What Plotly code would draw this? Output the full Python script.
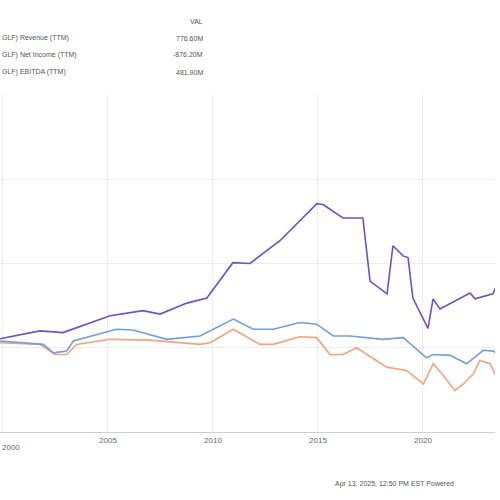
import plotly.graph_objects as go

rev_x = [1999.86, 2001.76, 2002.86, 2005.1, 2006.67, 2007.48, 2008.76, 2009.71, 2010.95, 2011.76, 2013.19, 2014.95, 2015.24, 2016.19, 2017.14, 2017.48, 2018.29, 2018.57, 2019.05, 2019.29, 2019.52, 2020.24, 2020.48, 2020.81, 2022.24, 2022.48, 2023.33, 2023.57]
rev_y = [10.7, 20, 18, 38, 44, 40, 53, 59, 101, 100, 127, 171, 170, 154, 154, 79, 64, 121, 109, 107, 59, 23, 58, 46, 65, 58, 64, 77]

ebitda_x = [1999.86, 2001.92, 2002.4, 2003.03, 2003.35, 2005.4, 2006.2, 2007.8, 2009.38, 2010.97, 2011.92, 2012.87, 2014.14, 2014.94, 2015.73, 2016.52, 2018.1, 2019.06, 2020.17, 2020.49, 2021.29, 2022.08, 2022.87, 2023.35, 2023.59]
ebitda_y = [8, 4, -6, -4, 8, 22, 21, 10, 14, 34, 22, 22, 30, 28, 14, 14, 10, 12, -12, -8, -9, -19, -3, -4, -8]

ni_x = [1999.86, 2001.76, 2002.48, 2003.03, 2003.51, 2005.1, 2007.0, 2009.38, 2009.86, 2010.97, 2012.24, 2012.87, 2014.14, 2014.94, 2015.57, 2016.2, 2016.84, 2017.32, 2018.27, 2019.22, 2020.02, 2020.49, 2020.97, 2021.52, 2021.92, 2022.4, 2022.71, 2023.19, 2023.59]
ni_y = [6, 4, -8, -8, 4, 10, 9, 4, 6, 22, 4, 4, 13, 12, -8, -8, 0, -8, -23, -27, -43, -19, -33, -51, -43, -31, -15, -19, -39]

tick_years = [2000, 2005, 2010, 2015, 2020]
tick_labels = ["2000", "2005", "2010", "2015", "2020"]

fig = go.Figure()
fig.add_trace(go.Scatter(x=ni_x, y=ni_y, mode="lines", line=dict(color="#f7a27c", width=1.6)))
fig.add_trace(go.Scatter(x=ebitda_x, y=ebitda_y, mode="lines", line=dict(color="#6f9ee3", width=1.6)))
fig.add_trace(go.Scatter(x=rev_x, y=rev_y, mode="lines", line=dict(color="#6a50d2", width=1.6)))

fig.update_layout(
    width=500, height=500, showlegend=False,
    margin=dict(l=0, r=5, t=95, b=68, autoexpand=False),
    paper_bgcolor="white", plot_bgcolor="white",
    font=dict(family="Liberation Sans, Arial", size=8, color="#555"),
    xaxis=dict(range=[1999.86, 2023.43], tickvals=tick_years, ticktext=[""] + tick_labels[1:],
               automargin=False, showgrid=True, gridcolor="#ececec", zeroline=False,
               showline=True, linecolor="#d0d0d0", ticks="", tickfont=dict(size=8, color="#666")),
    yaxis=dict(range=[-100, 300], dtick=100, showgrid=True, gridcolor="#ececec",
               automargin=False, zeroline=False, showticklabels=False),
)

# first tick label, kept inside the left edge
fig.add_annotation(xref="paper", yref="paper", x=0, y=0, yshift=-15,
                   text=tick_labels[0], showarrow=False, xanchor="left", yanchor="middle",
                   font=dict(size=8, color="#666"))

def ann(x, y, text, anchor):
    fig.add_annotation(xref="paper", yref="paper", x=x / 495, y=(432 - y) / 337,
                       text=text, showarrow=False, xanchor=anchor, yanchor="middle",
                       font=dict(size=7, color="#555"))

ann(205, 22, "VAL", "right")
ann(0, 38, "GLF) Revenue (TTM)", "left")
ann(0, 55, "GLF) Net Income (TTM)", "left")
ann(0, 72, "GLF) EBITDA (TTM)", "left")
ann(205, 38, "776.60M", "right")
ann(205, 55, "-876.20M", "right")
ann(205, 72, "481.90M", "right")
ann(333, 484, "Apr 13, 2025, 12:50 PM EST Powered", "left")

fig.write_html("out.html", config={"displayModeBar": False},
               post_script="document.body.style.margin='0';")
